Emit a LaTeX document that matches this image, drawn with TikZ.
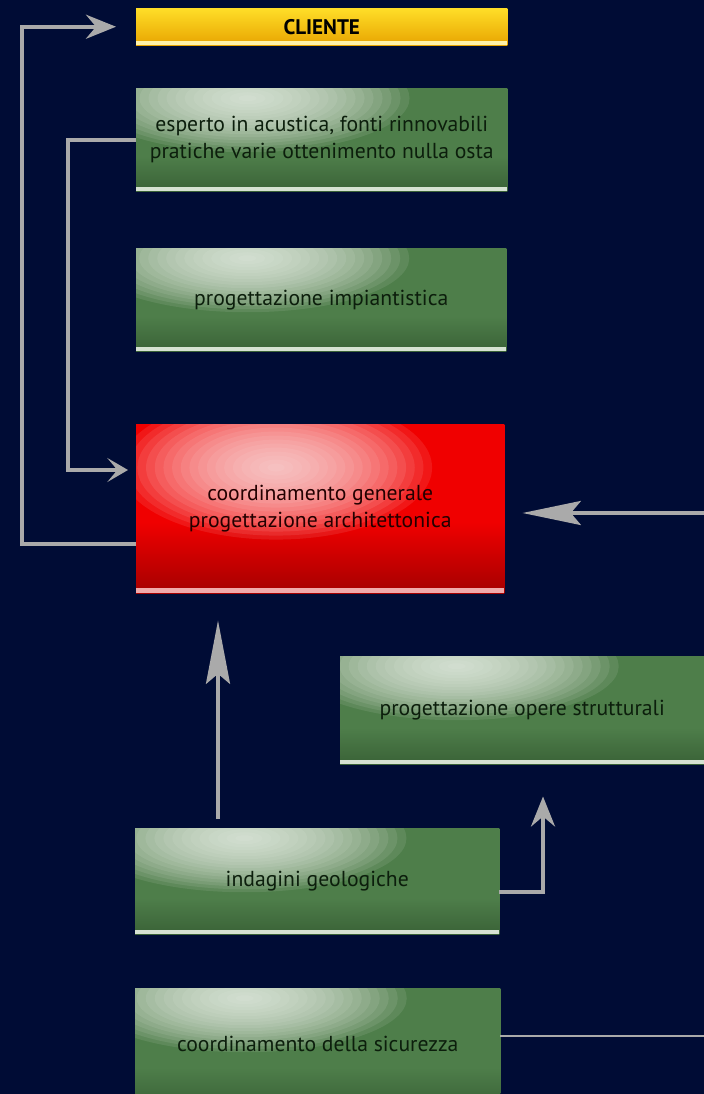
\documentclass[tikz,border=0pt]{standalone}
\usepackage{fontspec}
\setmainfont{PT Sans}
\usetikzlibrary{arrows.meta, calc}

\definecolor{navybg}{RGB}{0,12,53}
\definecolor{linegrey}{RGB}{170,170,170}
\definecolor{boxgreen}{RGB}{78,126,74}
\definecolor{darkgreen}{RGB}{58,98,55}
\definecolor{glowgreen}{RGB}{236,242,234}
\definecolor{edgegreen}{RGB}{214,226,210}
\definecolor{inkgreen}{RGB}{12,30,12}
\definecolor{boxred}{RGB}{240,0,0}
\definecolor{darkred}{RGB}{165,0,0}
\definecolor{glowred}{RGB}{255,228,228}
\definecolor{edgered}{RGB}{240,170,170}
\definecolor{inkred}{RGB}{35,0,0}
\definecolor{goldtop}{RGB}{255,222,40}
\definecolor{goldbot}{RGB}{232,164,0}

% box shadings (the path is mapped onto the middle 50bp)
\pgfdeclareverticalshading{greenbase}{100bp}{color(0bp)=(darkgreen); color(25bp)=(darkgreen); color(42bp)=(boxgreen); color(100bp)=(boxgreen)}
\pgfdeclareverticalshading{redbase}{100bp}{color(0bp)=(darkred); color(25bp)=(darkred); color(46bp)=(boxred); color(100bp)=(boxred)}

\tikzset{
        box/.style={rectangle, inner sep=0pt, anchor=north west, align=center, font=\fontsize{18.5}{23}\selectfont},
        greenbox/.style={box, text=inkgreen, shading=greenbase,
            path picture={
                \coordinate (glowc) at ($(path picture bounding box.north west)!#1!(path picture bounding box.north east)+(0,-0.3cm)$);
                \foreach \k in {1,...,18}
                    \fill[glowgreen, opacity=0.1] (glowc) ellipse ({(19-\k)*0.27cm} and {(19-\k)*0.09cm});
                \fill[edgegreen] (path picture bounding box.south west) rectangle ([yshift=0.13cm]path picture bounding box.south east);
            }},
        greenbox/.default=0.3,
        redbox/.style={box, text=inkred, shading=redbase,
            path picture={
                \coordinate (glowc) at ($(path picture bounding box.north west)!0.38!(path picture bounding box.north east)+(0,-1.3cm)$);
                \foreach \k in {1,...,18}
                    \fill[glowred, opacity=0.1] (glowc) ellipse ({(19-\k)*0.26cm} and {(19-\k)*0.12cm});
                \fill[edgered] (path picture bounding box.south west) rectangle ([yshift=0.16cm]path picture bounding box.south east);
            }},
        goldbox/.style={box, top color=goldtop, bottom color=goldbot, font=\fontsize{18}{20}\selectfont\bfseries,
            path picture={
                \fill[goldtop!40!white] (path picture bounding box.south west) rectangle ([yshift=0.14cm]path picture bounding box.south east);
            }},
        flow/.style={draw=linegrey, line width=0.12cm, -{Stealth[length=#1, width=0.72cm, inset=0.3cm]}},
        flow/.default=0.9cm,
        plain/.style={draw=linegrey, line width=0.07cm},
    }

\begin{document}
\begin{tikzpicture}[x=0.03cm, y=-0.03cm]
        % background
        \fill[navybg] (0,0) rectangle (704,1094);
        \clip (0,0) rectangle (704,1094);

        % top column
        \node[goldbox, minimum width=11.13cm, minimum height=1.11cm] (cliente) at (136,8) {CLIENTE};
        \node[greenbox, minimum width=11.13cm, minimum height=3.09cm] (esperto) at (136,88) {esperto in acustica, fonti rinnovabili\\pratiche varie ottenimento nulla osta};
        \node[greenbox, minimum width=11.1cm, minimum height=3.09cm] (impianti) at (136,248) {progettazione impiantistica};

        % main box
        \node[redbox, minimum width=11.04cm, minimum height=5.07cm] (coord) at (136,424) {coordinamento generale\\progettazione architettonica};

        % lower part
        \node[greenbox=0.32, minimum width=10.92cm, minimum height=3.24cm] (strutture) at (340,656) {progettazione opere strutturali};
        \node[greenbox, minimum width=10.92cm, minimum height=3.18cm] (geologia) at (135,828) {indagini geologiche};
        \node[greenbox, minimum width=10.95cm, minimum height=3.6cm] (sicurezza) at (135,988) {\raisebox{0.25cm}{coordinamento della sicurezza}};

        % helper coordinates
        \coordinate (leftrail) at (22,544);
        \coordinate (midrail) at (68,470);
        \coordinate (rightin) at (704,513);
        \coordinate (upx) at (218,0);
        \coordinate (sidex) at (543,892);
        \coordinate (sicout) at (704,1036);

        % Arrows
        \draw[flow] (coord.west |- leftrail) -- (leftrail) |- ([xshift=-0.6cm]cliente.west);
        \draw[flow=0.62cm] (esperto.west) -| (midrail) -- ([xshift=-0.24cm]coord.west |- midrail);
        \draw[flow=1.75cm] (rightin) -- ([xshift=0.54cm]coord.east |- rightin);
        \draw[flow=1.9cm, shorten <=0.27cm] (geologia.north -| upx) -- ([yshift=-0.81cm]coord.south -| upx);
        \draw[flow] (geologia.east |- sidex) -| ([yshift=-0.96cm]strutture.south -| sidex);
        \draw[plain] (sicurezza.east |- sicout) -- (sicout);
    \end{tikzpicture}
\end{document}
